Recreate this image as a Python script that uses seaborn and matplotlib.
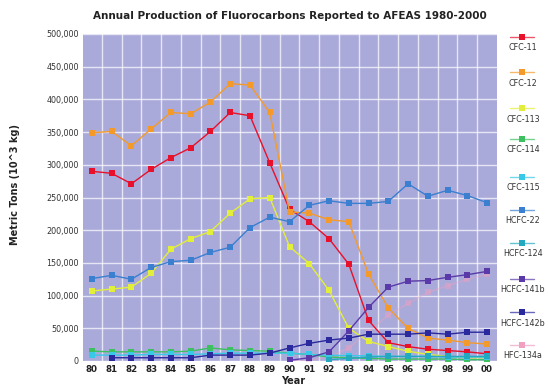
import numpy as np
import pandas as pd
import matplotlib
matplotlib.use("Agg")
import matplotlib.pyplot as plt
from matplotlib.lines import Line2D
import seaborn as sns

nan = np.nan
years = list(range(1980, 2001))
year_labels = ["80", "81", "82", "83", "84", "85", "86", "87", "88", "89", "90",
               "91", "92", "93", "94", "95", "96", "97", "98", "99", "00"]

# values in thousands of metric tons
cfc11 = [290, 287, 271, 293, 311, 326, 351, 380, 375, 303, 232, 213, 187, 148, 62, 28, 22, 18, 16, 14, 11]
cfc12 = [349, 351, 329, 355, 380, 378, 396, 424, 422, 380, 228, 226, 216, 213, 133, 81, 50, 35, 32, 28, 26]
cfc113 = [107, 110, 113, 134, 171, 187, 198, 226, 248, 250, 175, 149, 108, 50, 30, 22, 15, 10, 7, 5, 5]
cfc114 = [15, 14, 14, 14, 14, 15, 20, 17, 16, 15, 12, 10, 6, 5, 4, 3, 3, 3, 3, 2, 2]
cfc115 = [9, 9, 9, 10, 10, 10, 11, 12, 12, 12, 12, 10, 9, 8, 8, 7, 7, 7, 6, 6, 6]
hcfc22 = [126, 131, 125, 143, 152, 154, 166, 174, 204, 220, 213, 238, 245, 241, 241, 244, 271, 252, 261, 253, 242]
hcfc124 = [nan] * 12 + [2, 4, 6, 7, 7, 7, 7, 7, 7]
hcfc141b = [nan] * 10 + [1, 5, 14, 46, 82, 113, 122, 123, 128, 132, 137]
hcfc142b = [nan, 5, 5, 5, 5, 5, 9, 9, 9, 12, 20, 27, 32, 35, 41, 41, 41, 43, 41, 44, 44]
hfc134a = [nan] * 10 + [0.5, 1, 6, 20, 45, 70, 88, 105, 115, 125, 133]

series_names = ["CFC-11", "CFC-12", "CFC-113", "CFC-114", "CFC-115",
                "HCFC-22", "HCFC-124", "HCFC-141b", "HCFC-142b", "HFC-134a"]
series_values = [cfc11, cfc12, cfc113, cfc114, cfc115,
                 hcfc22, hcfc124, hcfc141b, hcfc142b, hfc134a]
colors = ["#E8102A", "#F39A2B", "#E2EE3A", "#3CC060", "#38C8E8",
          "#3A7FD0", "#22A8C0", "#5A3AA8", "#2A2A9E", "#F0A0C0"]

rows = []
for name, vals in zip(series_names, series_values):
    for y, v in zip(years, vals):
        if not np.isnan(v):
            rows.append({"year": y, "value": v * 1000, "compound": name})
df = pd.DataFrame(rows)

sns.set_style("white")
plt.rcParams["font.family"] = ["DejaVu Sans"]

fig = plt.figure(figsize=(5.48, 3.89), dpi=100)
W, H = 548, 389
ax = fig.add_axes([83 / W, (H - 361) / H, (497 - 83) / W, (361 - 34) / H])
ax.set_facecolor("#AAAADA")

palette = dict(zip(series_names, colors))
markers = {n: "s" for n in series_names}

faint = ["HFC-134a"]
main_names = [n for n in series_names if n not in faint]
sns.lineplot(data=df[df["compound"].isin(faint)], x="year", y="value", hue="compound",
             palette=palette, marker="s", dashes=False, alpha=0.45,
             markersize=4, markeredgewidth=0, linewidth=0.9,
             legend=False, ax=ax)
sns.lineplot(data=df[df["compound"].isin(main_names)], x="year", y="value", hue="compound",
             style="compound", hue_order=main_names, style_order=main_names,
             palette=palette, markers=markers, dashes=False,
             markersize=5, markeredgewidth=0, linewidth=1.0,
             legend=False, ax=ax)

ax.set_xlim(1979.55, 2000.5)
ax.set_ylim(0, 500000)
ax.set_xticks(years)
ax.set_xticklabels(year_labels, fontsize=6.3, color="#222222", fontweight="bold")
yt = list(range(0, 500001, 50000))
ax.set_yticks(yt)
ax.set_yticklabels(["0"] + [f"{v:,}" for v in yt[1:]], fontsize=5.8, color="#333333")
ax.set_xticks([y + 0.5 for y in years[:-1]], minor=True)
ax.tick_params(axis="both", which="both", length=0, pad=3)
ax.grid(False)
ax.grid(True, axis="x", which="minor", color="white", linewidth=1.0, alpha=0.7)
ax.grid(True, axis="y", which="major", color="white", linewidth=1.0, alpha=0.7)
for s in ax.spines.values():
    s.set_visible(False)
ax.set_xlabel("")
ax.set_ylabel("")

fig.text(290 / W, 1 - 16 / H, "Annual Production of Fluorocarbons Reported to AFEAS 1980-2000",
         ha="center", va="center", fontsize=7.5, fontweight="bold", color="#222222")
fig.text(293 / W, 1 - 381 / H, "Year", ha="center", va="center",
         fontsize=7, fontweight="bold", color="#222222")
fig.text(15 / W, 1 - 185 / H, "Metric Tons (10^3 kg)", ha="center", va="center",
         rotation=90, fontsize=7, fontweight="bold", color="#222222")

# legend: handle above label, stacked on the right
marker_y = [37, 72, 108, 139, 177, 210, 243, 279, 312, 345]
for name, col, my in zip(series_names, colors, marker_y):
    fy = 1 - my / H
    fig.add_artist(Line2D([510 / W, 534 / W], [fy, fy], transform=fig.transFigure,
                          color=col, linewidth=1.0, alpha=0.7))
    fig.add_artist(Line2D([522 / W], [fy], transform=fig.transFigure, color=col,
                          marker="s", markersize=4, markeredgewidth=0, linestyle="none"))
    fig.text(523 / W, 1 - (my + 11) / H, name, ha="center", va="center",
             fontsize=5.8, color="#333333")

fig.savefig("out.png", dpi=100)
